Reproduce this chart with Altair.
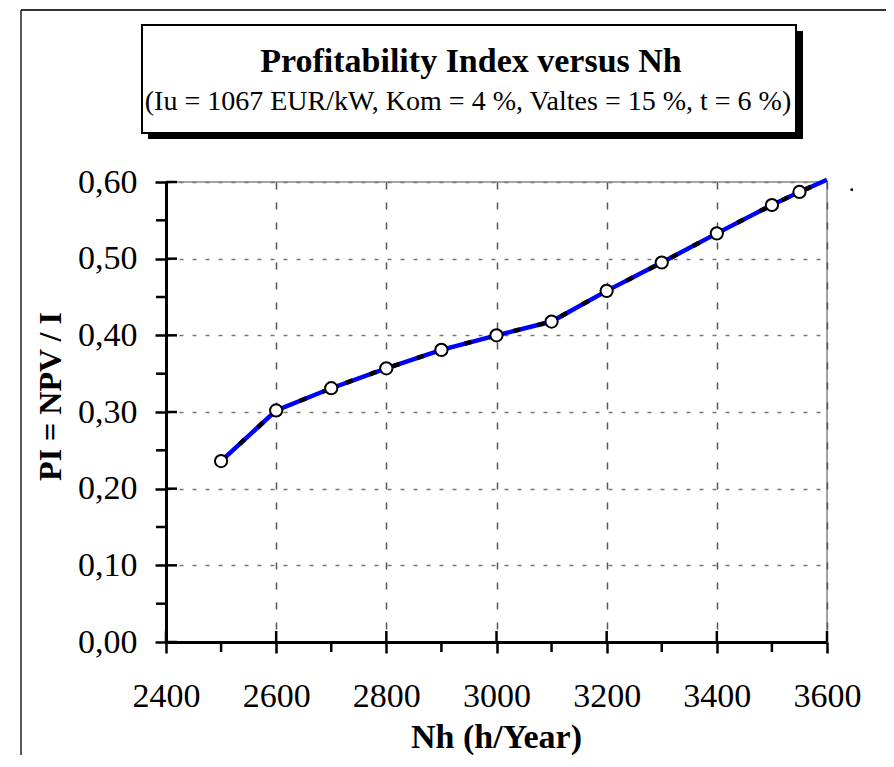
import altair as alt
import pandas as pd

# ---- data ----
nh = [2500, 2600, 2700, 2800, 2900, 3000, 3100, 3200, 3300, 3400, 3500, 3550, 3600]
pi = [0.236, 0.302, 0.331, 0.357, 0.381, 0.400, 0.418, 0.458, 0.495, 0.533, 0.570, 0.587, 0.603]
marker_nh = [2500, 2600, 2700, 2800, 2900, 3000, 3100, 3200, 3300, 3400, 3500, 3550]
marker_pi = [0.236, 0.302, 0.331, 0.357, 0.381, 0.400, 0.418, 0.458, 0.495, 0.533, 0.570, 0.587]
x_major = [2400, 2600, 2800, 3000, 3200, 3400, 3600]
x_minor = [2500, 2700, 2900, 3100, 3300, 3500]
y_major = [0.0, 0.1, 0.2, 0.3, 0.4, 0.5, 0.6]
y_minor = [0.05, 0.15, 0.25, 0.35, 0.45, 0.55]
stray_x = [3645]
stray_y = [0.59]

title_text = "Profitability Index versus Nh"
subtitle_text = "(Iu = 1067 EUR/kW, Kom = 4 %, Valtes = 15 %, t = 6 %)"
x_title = "Nh (h/Year)"
y_title = "PI = NPV / I"

FONT = "Liberation Serif"
W, H = 661, 460

line_df = pd.DataFrame({"nh": nh, "pi": pi})
mark_df = pd.DataFrame({"nh": marker_nh, "pi": marker_pi})
one = alt.Data(values=[{"a": 1}])

xs = alt.Scale(domain=[2400, 3600], nice=False, zero=False)
ys = alt.Scale(domain=[0, 0.6], nice=False)

x_axis = alt.Axis(
    values=x_major, format="d", labelFont=FONT, labelFontSize=34, labelColor="black",
    labelPadding=26, labelFlush=False, labelOverlap=False,
    tickSize=11, tickWidth=2.5, tickColor="black",
    domainColor="black", domainWidth=3,
    grid=True, gridColor="#555555", gridDash=[7, 13], gridWidth=1.5,
    title=x_title, titleFont=FONT, titleFontSize=34, titleFontWeight="bold",
    titleColor="black", titleX=330, titleY=105, titleBaseline="alphabetic",
    titleAnchor="middle", titleAlign="center",
)
y_axis = alt.Axis(
    values=y_major, labelExpr="replace(format(datum.value, '.2f'), '.', ',')",
    labelFont=FONT, labelFontSize=34, labelColor="black", labelPadding=18,
    labelFlush=False, labelOverlap=False,
    tickSize=11, tickWidth=2.5, tickColor="black",
    domainColor="black", domainWidth=3,
    grid=True, gridColor="#777777", gridDash=[4, 9], gridWidth=1.5,
    title=y_title, titleFont=FONT, titleFontSize=32, titleFontWeight="bold",
    titleColor="black", titleX=-106, titleY=214, titleAngle=-90,
    titleBaseline="alphabetic", titleAlign="center",
)

# decorations: outer frame and title box
frame_top = alt.Chart(one).mark_rule(color="#333333", strokeWidth=2).encode(
    x=alt.value(-145), x2=alt.value(900), y=alt.value(-172))
frame_left = alt.Chart(one).mark_rule(color="#222222", strokeWidth=1.5).encode(
    x=alt.value(-145), y=alt.value(-172), y2=alt.value(900))
shadow = alt.Chart(one).mark_rect(color="black").encode(
    x=alt.value(-18), x2=alt.value(637), y=alt.value(-151), y2=alt.value(-43))
box = alt.Chart(one).mark_rect(fill="white", stroke="black", strokeWidth=2).encode(
    x=alt.value(-24), x2=alt.value(630), y=alt.value(-157), y2=alt.value(-49))
title = alt.Chart(one).mark_text(font=FONT, fontSize=34, fontWeight="bold",
                                 color="black", align="center", baseline="alphabetic").encode(
    x=alt.value(305), y=alt.value(-110), text=alt.value(title_text))
subtitle = alt.Chart(one).mark_text(font=FONT, fontSize=28, color="black",
                                    align="center", baseline="alphabetic").encode(
    x=alt.value(302), y=alt.value(-72), text=alt.value(subtitle_text))

base = alt.Chart(line_df).mark_line(color="#0000FF", strokeWidth=4.5).encode(
    x=alt.X("nh:Q", scale=xs, axis=x_axis),
    y=alt.Y("pi:Q", scale=ys, axis=y_axis),
)
dashed = alt.Chart(line_df).mark_line(color="black", strokeWidth=4.5,
                                      strokeDash=[7, 18]).encode(
    x=alt.X("nh:Q", scale=xs), y=alt.Y("pi:Q", scale=ys))
markers = alt.Chart(mark_df).mark_point(shape="circle", filled=True, fill="white",
                                        stroke="black", strokeWidth=2, size=150,
                                        opacity=1).encode(
    x=alt.X("nh:Q", scale=xs), y=alt.Y("pi:Q", scale=ys))

# inward halves of major ticks, and minor ticks
xin = alt.Chart(pd.DataFrame({"v": x_major})).mark_rule(color="black", strokeWidth=2.5).encode(
    x=alt.X("v:Q", scale=xs), y=alt.value(H - 11), y2=alt.value(H))
xmin = alt.Chart(pd.DataFrame({"v": x_minor})).mark_rule(color="black", strokeWidth=2.5).encode(
    x=alt.X("v:Q", scale=xs), y=alt.value(H), y2=alt.value(H + 10))
yin = alt.Chart(pd.DataFrame({"v": y_major})).mark_rule(color="black", strokeWidth=2.5).encode(
    y=alt.Y("v:Q", scale=ys), x=alt.value(0), x2=alt.value(11))
ymin = alt.Chart(pd.DataFrame({"v": y_minor})).mark_rule(color="black", strokeWidth=2.5).encode(
    y=alt.Y("v:Q", scale=ys), x=alt.value(-10), x2=alt.value(0))
stray = alt.Chart(pd.DataFrame({"nh": stray_x, "pi": stray_y})).mark_point(
    shape="circle", filled=True, color="black", size=8, opacity=1).encode(
    x=alt.X("nh:Q", scale=xs), y=alt.Y("pi:Q", scale=ys))

chart = alt.layer(
    frame_top, frame_left, shadow, box, title, subtitle,
    base, dashed, markers, xin, xmin, yin, ymin, stray,
).properties(
    width=W, height=H,
    autosize=alt.AutoSizeParams(type="none"),
    padding={"left": 158, "top": 174, "right": 59, "bottom": 113},
    background="white",
).configure_view(stroke="#888888", strokeWidth=1.5)

chart.save("out.html", embed_options={"renderer": "svg", "actions": False})
